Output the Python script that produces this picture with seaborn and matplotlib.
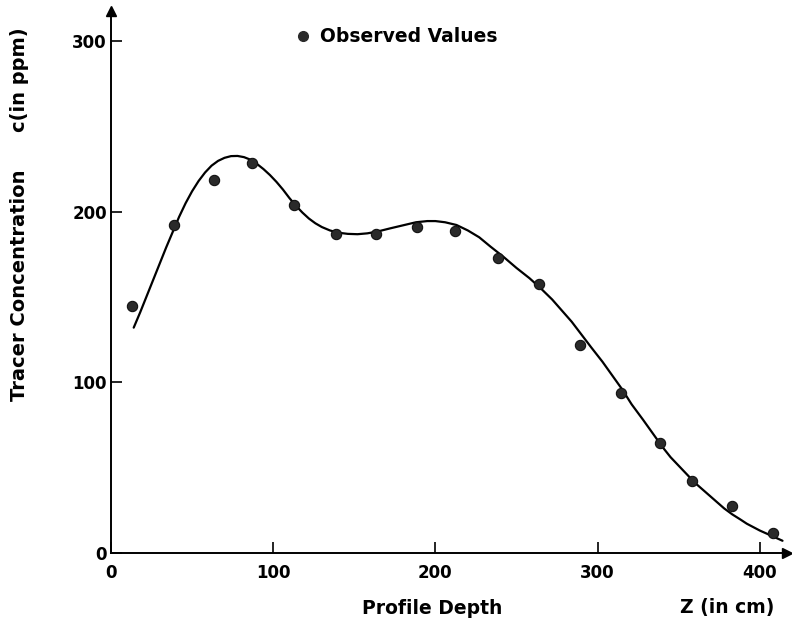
import matplotlib
matplotlib.use("Agg")
import matplotlib.pyplot as plt
import seaborn as sns
import pandas as pd

# Observed values
depth_obs = [12.8, 39.0, 63.7, 87.1, 112.6, 138.5, 163.4, 188.5, 212.3,
             238.6, 263.9, 289.2, 314.5, 338.6, 358.2, 383.0, 408.3]
conc_obs = [144.9, 192.2, 218.6, 228.7, 203.9, 186.9, 186.7, 190.9, 188.7,
            172.8, 157.6, 121.8, 93.7, 64.3, 42.1, 27.6, 11.7]

# Fitted curve
depth_fit = [14, 18, 22, 26, 30, 34, 38, 42, 46, 50, 54, 58, 62, 66, 70, 74, 78,
             82, 86, 90, 94, 98, 102, 106, 110, 114, 118, 122, 126, 130, 135, 140,
             146, 152, 158, 164, 172, 180, 188, 195, 200, 206, 213, 220, 227, 234,
             242, 250, 258, 265, 272, 278, 284, 290, 296, 303, 309, 315, 321, 328,
             334, 340, 345, 350, 355, 360, 366, 372, 378, 383, 388, 392, 396, 400,
             404, 407, 411, 414]
conc_fit = [132, 141, 150.5, 160, 169.5, 179, 188, 197, 205, 212, 218, 223, 227,
            229.8, 231.6, 232.6, 232.7, 232, 230.5, 228, 225, 221.5, 217.5, 213,
            208, 203.5, 199.5, 196, 193.2, 191, 189, 187.7, 187, 186.8, 187.3,
            188.3, 190.2, 192, 193.8, 194.5, 194.5, 193.8, 192.2, 189, 185, 179.5,
            173.5, 167, 161, 155, 148.5, 142, 135.5, 128, 120.5, 112, 104, 96, 87,
            78, 70, 62, 56, 51, 46, 41, 36, 31, 26, 22.5, 19.5, 17, 15, 13, 11.3,
            10, 8.3, 7]

xticks = [0, 100, 200, 300, 400]
yticks = [0, 100, 200, 300]

obs_df = pd.DataFrame({"depth": depth_obs, "conc": conc_obs})
fit_df = pd.DataFrame({"depth": depth_fit, "conc": conc_fit})

sns.set_theme(style="white")
plt.rcParams["font.family"] = ["DejaVu Sans"]
plt.rcParams["text.color"] = "black"
plt.rcParams["xtick.color"] = "black"
plt.rcParams["ytick.color"] = "black"

TICK_FS = 12
LAB_FS = 13.5
FW = "bold"

fig = plt.figure(figsize=(7.92, 6.23), dpi=100)
ax = fig.add_axes([111 / 792, 70.3 / 623, (787 - 111) / 792, (612.3 - 70.3) / 623])

sns.lineplot(data=fit_df, x="depth", y="conc", ax=ax, color="black",
             linewidth=1.6, sort=False, estimator=None)
sns.scatterplot(data=obs_df, x="depth", y="conc", ax=ax, color="#2a2a2a",
                s=55, edgecolor="#111111", linewidth=0.8, zorder=3)

ax.set_xlim(0, (787 - 111) / 1.622)
ax.set_ylim(0, (552.7 - 10.7) / 1.705)
ax.set_xticks(xticks)
ax.set_yticks(yticks)
ax.set_xticklabels([str(t) for t in xticks], fontsize=TICK_FS, fontweight=FW)
ax.set_yticklabels([str(t) for t in yticks], fontsize=TICK_FS, fontweight=FW)
ax.tick_params(axis="both", direction="in", length=8, width=1.2, color="black")
ax.tick_params(axis="x", pad=8, bottom=True)
ax.tick_params(axis="y", pad=3, left=True)

for s in ["top", "right"]:
    ax.spines[s].set_visible(False)
for s in ["left", "bottom"]:
    ax.spines[s].set_color("black")
    ax.spines[s].set_linewidth(1.4)

# axis arrows
ax.plot(1, 0, ">", color="black", markersize=7, transform=ax.transAxes, clip_on=False)
ax.plot(0, 1, "^", color="black", markersize=7, transform=ax.transAxes, clip_on=False)

ax.set_xlabel("")
ax.set_ylabel("")
fig.text(432 / 792, 1 - 608 / 623, "Profile Depth", ha="center", va="center",
         fontsize=LAB_FS, fontweight=FW)
fig.text(727 / 792, 1 - 608 / 623, "Z (in cm)", ha="center", va="center",
         fontsize=LAB_FS, fontweight=FW)
fig.text(20 / 792, 1 - 285 / 623, "Tracer Concentration", ha="center",
         va="center", rotation=90, fontsize=LAB_FS + 0.5, fontweight=FW)
fig.text(20 / 792, 1 - 80 / 623, "c(in ppm)", ha="center",
         va="center", rotation=90, fontsize=LAB_FS + 0.5, fontweight=FW)

# legend
fig.lines.append(plt.Line2D([303 / 792], [1 - 36 / 623], marker="o", color="#2a2a2a",
                            markersize=7, transform=fig.transFigure, linestyle="none"))
fig.text(320 / 792, 1 - 36 / 623, "Observed Values", ha="left", va="center",
         fontsize=LAB_FS, fontweight=FW)

fig.savefig("out.png", dpi=100, facecolor="white")
